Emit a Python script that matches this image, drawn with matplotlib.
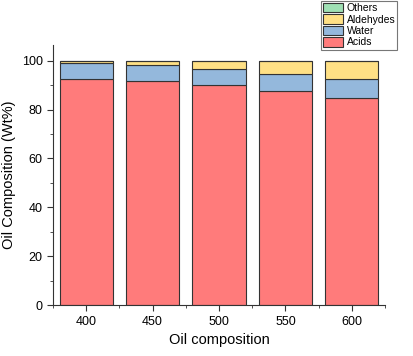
import numpy as np
import matplotlib
matplotlib.use("Agg")
from matplotlib import pyplot as plt
from matplotlib.ticker import MultipleLocator

plt.rcParams['font.family'] = ['Liberation Sans', 'DejaVu Sans']

temps = [400, 450, 500, 550, 600]
acids = [92.5, 91.7, 90.2, 87.7, 84.7]
water = [6.5, 6.5, 6.5, 7.0, 7.8]
aldehydes = [0.7, 1.8, 3.3, 5.3, 7.5]
others = [0.3, 0.0, 0.0, 0.0, 0.0]

series = [("Acids", acids, "#FF7B7B"),
          ("Water", water, "#94B8DC"),
          ("Aldehydes", aldehydes, "#FFE085"),
          ("Others", others, "#9FE0B4")]

fig = plt.figure(figsize=(4.14, 3.56), dpi=100)
ax = fig.add_axes([0.128, 0.143, 0.802, 0.731])

bottom = np.zeros(len(temps))
handles = []
for name, vals, col in series:
    b = ax.bar(temps, vals, width=40, bottom=bottom, color=col,
               edgecolor="#333333", linewidth=0.8, label=name)
    handles.append(b)
    bottom += np.array(vals)

ax.set_xlim(375, 625)
ax.set_ylim(0, 106.5)
ax.set_xticks(temps)
ax.xaxis.set_minor_locator(MultipleLocator(25))
ax.yaxis.set_major_locator(MultipleLocator(20))
ax.yaxis.set_minor_locator(MultipleLocator(10))
ax.tick_params(which="both", direction="out", labelsize=9, color="#333333")
ax.tick_params(which="major", length=4)
ax.tick_params(which="minor", length=2.5)
for s in ["top", "right"]:
    ax.spines[s].set_visible(False)
for s in ["left", "bottom"]:
    ax.spines[s].set_color("#333333")

ax.set_xlabel("Oil composition", fontsize=10.5)
ax.set_ylabel("Oil Composition (Wt%)", fontsize=10.5)

leg = fig.legend(handles[::-1], [s[0] for s in series][::-1],
                 loc="upper right", bbox_to_anchor=(0.96, 0.998),
                 fontsize=7.5, frameon=True, fancybox=False,
                 handlelength=2.0, handleheight=1.0, handletextpad=0.3,
                 labelspacing=0.12, borderpad=0.2, borderaxespad=0)
leg.get_frame().set_edgecolor("#555555")
leg.get_frame().set_linewidth(0.8)

plt.savefig("out.png", dpi=100)
